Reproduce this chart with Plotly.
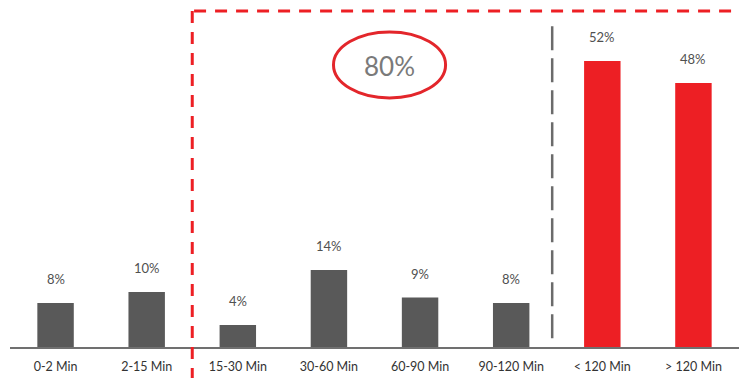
import plotly.graph_objects as go

# Share of sessions by duration bucket (%)
categories = ["0-2 Min", "2-15 Min", "15-30 Min", "30-60 Min",
              "60-90 Min", "90-120 Min", "< 120 Min", "> 120 Min"]
shares = [8, 10, 4, 14, 9, 8, 52, 48]
bar_colors = ["#595959"] * 6 + ["#ED1F24"] * 2
labels = [f"{v}%" for v in shares]
highlight_total = "80%"

FONT = "Lato, 'Open Sans', sans-serif"

fig = go.Figure()
fig.add_trace(go.Bar(
    x=list(range(len(categories))),
    y=shares,
    marker=dict(color=bar_colors, line=dict(width=0)),
    width=0.4,
    hoverinfo="skip",
))

# value labels above each bar
for i, (v, t) in enumerate(zip(shares, labels)):
    fig.add_annotation(x=i, y=v, text=t, showarrow=False, yshift=24,
                       font=dict(family=FONT, size=13, color="#505050"))

shapes = [
    # red dashed frame around the long-session buckets
    dict(type="line", xref="x", yref="paper", x0=1.5, x1=1.5, y0=0.968, y1=-0.12,
         line=dict(color="#ED1F24", width=3, dash="12px,9px")),
    dict(type="line", xref="x", yref="paper", x0=1.52, x1=7.7, y0=0.968, y1=0.968,
         line=dict(color="#ED1F24", width=3, dash="12px,9px")),
    # gray divider between buckets and totals
    dict(type="line", xref="x", yref="y", x0=5.45, x1=5.45, y0=1.6, y1=59.6,
         line=dict(color="#6B6B6B", width=2.5, dash="24px,8px")),
    # red ellipse around the total
    dict(type="circle", xref="x", yref="y", x0=3.05, x1=4.28, y0=45.3, y1=57.3,
         line=dict(color="#E3262B", width=3)),
]
fig.update_layout(shapes=shapes)

fig.add_annotation(x=3.665, y=51.1, text=highlight_total, showarrow=False,
                   font=dict(family=FONT, size=26, color="#7A7A7A"))

fig.update_xaxes(
    range=[-0.5, 7.5],
    tickmode="array",
    tickvals=list(range(len(categories))),
    ticktext=categories,
    showgrid=False, zeroline=False,
    showline=True, linecolor="#707070", linewidth=2,
    ticks="", ticklabelstandoff=7,
    tickfont=dict(family=FONT, size=12.5, color="#333333"),
)
fig.update_yaxes(range=[0, 63.1], visible=False, showgrid=False, zeroline=False)

fig.update_layout(
    width=748, height=378,
    margin=dict(l=10, r=9, t=0, b=31),
    paper_bgcolor="white", plot_bgcolor="white",
    showlegend=False,
    bargap=0.6,
)

fig.write_html("out.html")
